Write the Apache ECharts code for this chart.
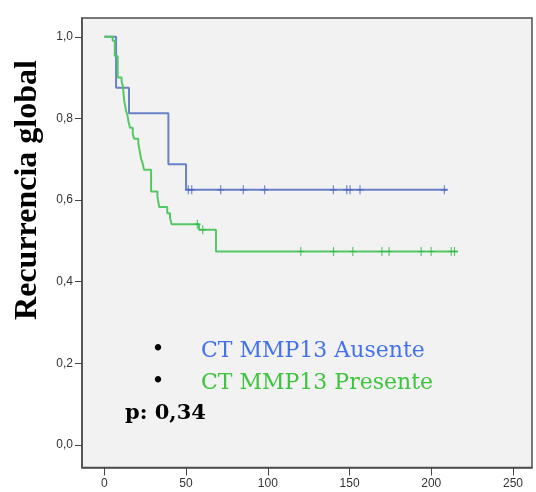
<!DOCTYPE html>
<html>
<head>
<meta charset="utf-8">
<script src="https://cdn.jsdelivr.net/npm/echarts@6/dist/echarts.min.js"></script>
<style>
html,body{margin:0;padding:0;background:#ffffff;}
#chart{width:536px;height:492px;}
</style>
</head>
<body>
<div id="chart"></div>
<script>
// ---- Data ----
const xTicks = [0, 50, 100, 150, 200, 250];
const yTicks = [0, 0.2, 0.4, 0.6, 0.8, 1.0];

// CT MMP13 Ausente: step times and survival after each step
const ausenteTimes = [0, 7.2, 15.1, 39.2, 50.0, 209.8];
const ausenteSurv  = [1.0, 0.875, 0.8125, 0.6875, 0.625, 0.625];
const ausenteCensored = [51.4, 53.5, 71.2, 85.0, 98.1, 140.1, 148.3, 150.3, 156.4, 208.0];

// CT MMP13 Presente
const presenteTimes = [0, 5.1, 6.4, 8.2, 10.6, 11.3, 12.2, 13.3, 14.2, 14.7, 15.7, 17.4, 18.2, 20.8, 21.4, 22.5, 23.5, 24.3, 28.6, 32.5, 33.6, 38.5, 40.2, 41.2, 57.9, 68.3, 216.2];
const presenteSurv  = [1.0, 0.990, 0.953, 0.900, 0.890, 0.880, 0.843, 0.819, 0.807, 0.794, 0.777, 0.762, 0.750, 0.738, 0.726, 0.701, 0.689, 0.674, 0.621, 0.608, 0.583, 0.568, 0.556, 0.541, 0.527, 0.474, 0.474];
const presenteCensored = [56.9, 60.2, 120.2, 140.2, 152.0, 169.8, 174.2, 193.8, 199.9, 212.2, 214.2];

const legendLabels = ['CT MMP13 Ausente', 'CT MMP13 Presente'];
const pText = 'p: 0,34';
const yTitle = 'Recurrencia global';

// ---- Helpers ----
function stepData(times, surv) { return times.map((t, i) => [t, surv[i]]); }
function survAt(times, surv, t) {
  let s = surv[0];
  for (let i = 0; i < times.length; i++) { if (times[i] <= t) s = surv[i]; }
  return s;
}
function censorData(cens, times, surv) { return cens.map(t => [t, survAt(times, surv, t)]); }

const plusPath = 'path://M4.2,0 H5.8 V10 H4.2 Z M0,4.4 H10 V5.6 H0 Z';

const blueLine = '#6A81C8', blueMark = '#4A64BA';
const greenLine = '#55C866', greenMark = '#2FB84A';

const chart = echarts.init(document.getElementById('chart'), null, {renderer: 'canvas'});
chart.setOption({
  animation: false,
  backgroundColor: '#ffffff',
  grid: {left: 82, right: 4, top: 18, bottom: 24.5, show: true, backgroundColor: '#F2F2F2', borderColor: '#4d4d4d', borderWidth: 1.5},
  xAxis: {
    type: 'value', min: -13.64, max: 261.6,
    splitLine: {show: false},
    axisLine: {show: true, onZero: false, lineStyle: {color: '#4d4d4d', width: 1.5}},
    axisTick: {show: true, length: 8, customValues: xTicks, lineStyle: {color: '#444', width: 1}},
    axisLabel: {customValues: xTicks, color: '#333', fontSize: 12, fontFamily: 'Liberation Sans', margin: 10,
      formatter: v => String(v)}
  },
  yAxis: {
    type: 'value', min: -0.0551, max: 1.046,
    splitLine: {show: false},
    axisLine: {show: true, onZero: false, lineStyle: {color: '#4d4d4d', width: 1.5}},
    axisTick: {show: true, length: 7, customValues: yTicks, lineStyle: {color: '#444', width: 1}},
    axisLabel: {customValues: yTicks, color: '#333', fontSize: 12, fontFamily: 'Liberation Sans', margin: 9,
      formatter: v => v.toFixed(1).replace('.', ',')}
  },
  series: [
    {type: 'line', step: 'end', symbol: 'none', data: stepData(ausenteTimes, ausenteSurv),
      lineStyle: {color: blueLine, width: 2}, z: 2},
    {type: 'line', step: 'end', symbol: 'none', data: stepData(presenteTimes, presenteSurv),
      lineStyle: {color: greenLine, width: 2}, z: 3},
    {type: 'scatter', symbol: plusPath, symbolSize: [7, 9], data: censorData(ausenteCensored, ausenteTimes, ausenteSurv),
      itemStyle: {color: blueMark}, z: 4},
    {type: 'scatter', symbol: plusPath, symbolSize: [7, 9], data: censorData(presenteCensored, presenteTimes, presenteSurv),
      itemStyle: {color: greenMark}, z: 5}
  ],
  graphic: [
    {type: 'text', x: 28, y: 190, rotation: Math.PI / 2,
      style: {text: yTitle, font: 'bold 32px "Liberation Serif"', fill: '#000', align: 'center', verticalAlign: 'middle'}},
    {type: 'text', x: 158, y: 350, style: {text: '•', font: '22px "DejaVu Serif"', fill: '#000', align: 'center', verticalAlign: 'middle'}},
    {type: 'text', x: 158, y: 382, style: {text: '•', font: '22px "DejaVu Serif"', fill: '#000', align: 'center', verticalAlign: 'middle'}},
    {type: 'text', x: 201, y: 351, style: {text: legendLabels[0], font: '22px "DejaVu Serif"', fill: '#4472EE', align: 'left', verticalAlign: 'middle'}},
    {type: 'text', x: 201, y: 383, style: {text: legendLabels[1], font: '22px "DejaVu Serif"', fill: '#3EC43E', align: 'left', verticalAlign: 'middle'}},
    {type: 'text', x: 125, y: 414, style: {text: pText, font: 'bold 21px "DejaVu Serif"', fill: '#000', align: 'left', verticalAlign: 'middle'}}
  ]
});
</script>
</body>
</html>
